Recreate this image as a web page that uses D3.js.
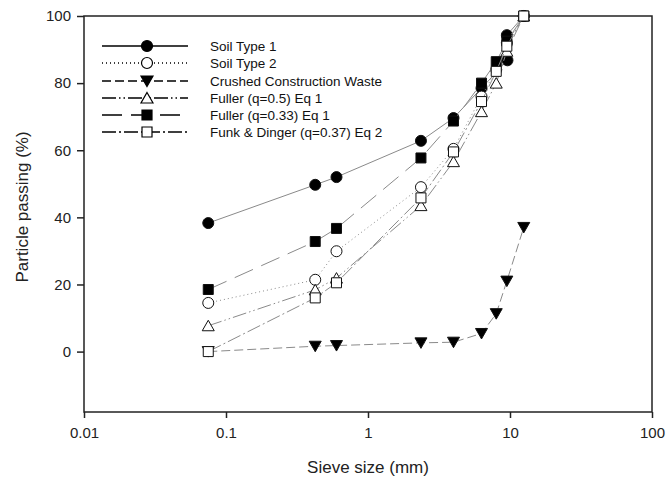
<!DOCTYPE html>
<html>
<head>
<meta charset="utf-8">
<script src="https://cdn.jsdelivr.net/npm/d3@7"></script>
<style>
	body { margin: 0; background: #fff; }
	svg { display: block; font-family: "Liberation Sans", Arial, sans-serif; }
</style>
</head>
<body>
<div id="chart"></div>
<script>
// sieve sizes (mm)
const sieveSizes = [0.075, 0.425, 0.6, 2.36, 4, 6.3, 8, 9.5, 12.5];
const soil1Sizes = [0.075, 0.425, 0.6, 2.36, 4, 6.3, 9.6, 9.5, 12.5];

// percent passing per series
const soil1 = [38.3, 49.7, 52.0, 62.8, 69.6, 78.5, 86.8, 94.3, 100];
const soil2 = [14.5, 21.4, 29.9, 49.0, 60.4, 76.0, 84.0, 92.0, 100];
const crushed = [0, 1.6, 1.8, 2.6, 2.8, 5.4, 11.3, 21.0, 37.0];
const fuller05 = [7.7, 18.4, 21.9, 43.5, 56.6, 71.5, 80.0, 89.5, 100];
const fuller033 = [18.5, 32.8, 36.7, 57.7, 68.7, 80.0, 86.4, 92.5, 100];
const funkDinger = [0, 16.0, 20.5, 45.8, 59.5, 74.5, 83.5, 91.0, 100];

const seriesNames = ['Soil Type 1', 'Soil Type 2', 'Crushed Construction Waste',
	'Fuller (q=0.5) Eq 1', 'Fuller (q=0.33) Eq 1', 'Funk & Dinger (q=0.37) Eq 2'];

const xTicks = [0.01, 0.1, 1, 10, 100];
const yTicks = [0, 20, 40, 60, 80, 100];

const W = 668, H = 484;
const m = { top: 16, right: 16, bottom: 72, left: 84 };
const width = W - m.left - m.right,
	height = H - m.top - m.bottom;

const series = [
	{ name: seriesNames[0], x: soil1Sizes, y: soil1, dash: null, sym: 'circle', fill: '#000' },
	{ name: seriesNames[1], x: sieveSizes, y: soil2, dash: '1,3', sym: 'circle', fill: '#fff' },
	{ name: seriesNames[2], x: sieveSizes, y: crushed, dash: '9,4', sym: 'down', fill: '#000' },
	{ name: seriesNames[3], x: sieveSizes, y: fuller05, dash: '14,3,1.5,3,1.5,3', sym: 'up', fill: '#fff' },
	{ name: seriesNames[4], x: sieveSizes, y: fuller033, dash: '20,9', sym: 'square', fill: '#000' },
	{ name: seriesNames[5], x: sieveSizes, y: funkDinger, dash: '14,3,2,3', sym: 'square', fill: '#fff' }
];

const svg = d3.select('#chart').append('svg')
	.attr('width', W)
	.attr('height', H);

const g = svg.append('g')
	.attr('transform', `translate(${m.left},${m.top})`);

const xScale = d3.scaleLog().domain([0.01, 100]).range([0, width]);
const yScale = d3.scaleLinear().domain([-18, 100]).range([height, 0]);

// symbols
function symPath(type) {
	if (type === 'circle') return d3.symbol(d3.symbolCircle, 95)();
	if (type === 'square') return 'M-5,-5H5V5H-5Z';
	if (type === 'up') return 'M0,-5.5L6,5H-6Z';
	return 'M0,5.5L6,-5H-6Z';
}

// frame
g.append('rect')
	.attr('width', width)
	.attr('height', height)
	.attr('fill', 'none')
	.attr('stroke', '#222')
	.attr('stroke-width', 1.5);

// axes
const xAxis = d3.axisBottom(xScale).tickValues(xTicks).tickSize(6).tickSizeOuter(0)
	.tickFormat(d => String(d));
const yAxis = d3.axisLeft(yScale).tickValues(yTicks).tickSize(7).tickSizeOuter(0);

g.append('g')
	.attr('class', 'xAxis')
	.attr('transform', `translate(0,${height})`)
	.call(xAxis)
	.call(s => s.select('.domain').remove())
	.call(s => s.selectAll('line').attr('stroke', '#222').attr('stroke-width', 1.5))
	.call(s => s.selectAll('text').attr('font-size', 15).attr('fill', '#222').attr('dy', '1.15em').attr('font-family', null));

g.append('g')
	.attr('class', 'yAxis')
	.call(yAxis)
	.call(s => s.select('.domain').remove())
	.call(s => s.selectAll('line').attr('stroke', '#222').attr('stroke-width', 1.5))
	.call(s => s.selectAll('text').attr('font-size', 15).attr('fill', '#222').attr('x', -13).attr('font-family', null));

// axis titles
svg.append('text')
	.attr('x', m.left + width / 2)
	.attr('y', 473)
	.attr('text-anchor', 'middle')
	.attr('font-size', 17)
	.attr('fill', '#222')
	.text('Sieve size (mm)');

svg.append('text')
	.attr('transform', 'translate(28,207) rotate(-90)')
	.attr('text-anchor', 'middle')
	.attr('font-size', 17)
	.attr('fill', '#222')
	.text('Particle passing (%)');

// series
const line = d3.line()
	.x(d => xScale(d[0]))
	.y(d => yScale(d[1]));

series.forEach(s => {
	const pts = s.x.map((v, i) => [v, s.y[i]]);
	const sg = g.append('g').attr('class', 'series');
	sg.append('path')
		.datum(pts)
		.attr('d', line)
		.attr('fill', 'none')
		.attr('stroke', '#8a8a8a')
		.attr('stroke-width', 1)
		.attr('stroke-dasharray', s.dash);
	sg.selectAll('.pt')
		.data(pts)
		.enter()
		.append('path')
		.attr('class', 'pt')
		.attr('d', symPath(s.sym))
		.attr('transform', d => `translate(${xScale(d[0])},${yScale(d[1])})`)
		.attr('fill', s.fill)
		.attr('stroke', '#111')
		.attr('stroke-width', 1);
});

// legend
const legend = svg.append('g').attr('class', 'legend');
const rowY = [46, 63, 81, 98, 115, 132];
series.forEach((s, i) => {
	const lg = legend.append('g').attr('transform', `translate(0,${rowY[i]})`);
	lg.append('line')
		.attr('x1', 102).attr('x2', 188)
		.attr('stroke', '#000')
		.attr('stroke-width', 1.5)
		.attr('stroke-dasharray', s.dash);
	lg.append('path')
		.attr('d', symPath(s.sym))
		.attr('transform', 'translate(147,0)')
		.attr('fill', s.fill)
		.attr('stroke', '#000')
		.attr('stroke-width', 1.2);
	lg.append('text')
		.attr('x', 210)
		.attr('dy', '0.36em')
		.attr('font-size', 13.5)
		.attr('fill', '#111')
		.text(s.name);
});
</script>
</body>
</html>
